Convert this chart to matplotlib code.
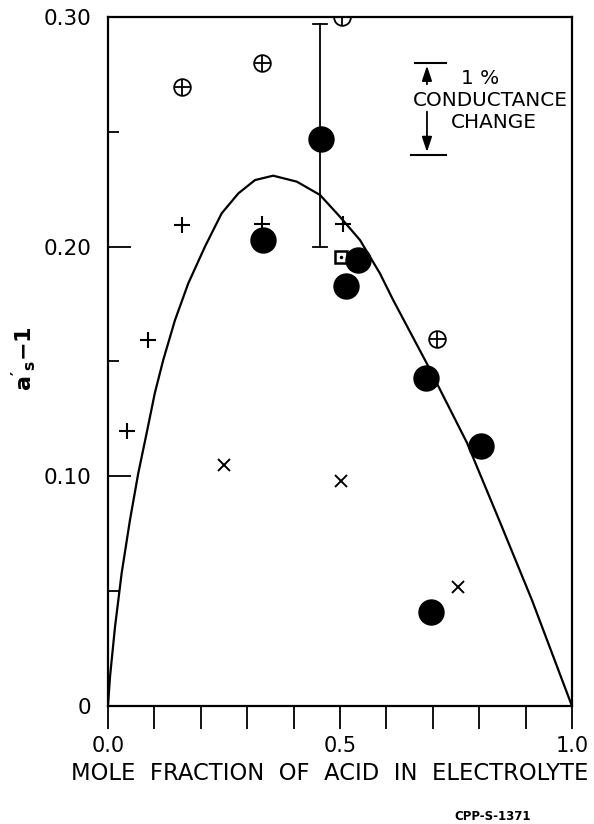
import numpy as np
import matplotlib
matplotlib.use("Agg")
import matplotlib.pyplot as plt

matplotlib.rcParams['font.family'] = 'DejaVu Sans'
matplotlib.rcParams['mathtext.fontset'] = 'dejavusans'
matplotlib.rcParams['mathtext.default'] = 'regular'

# theoretical curve, read point by point
curve_x = [0.0, 0.0043, 0.0151, 0.0295, 0.0474, 0.0653, 0.0834, 0.101, 0.119,
           0.1444, 0.173, 0.209, 0.245, 0.281, 0.317, 0.356, 0.407, 0.457,
           0.500, 0.543, 0.586, 0.614, 0.6875, 0.774, 0.845, 0.914, 1.0]
curve_y = [0.0, 0.0126, 0.0344, 0.0579, 0.081, 0.1014, 0.1189, 0.1363, 0.1506,
           0.168, 0.184, 0.200, 0.2145, 0.2232, 0.229, 0.2309, 0.2283, 0.2225,
           0.213, 0.2029, 0.1884, 0.177, 0.149, 0.1145, 0.080, 0.046, 0.0]

# measured points, by symbol
dot_x = [0.335, 0.459, 0.5395, 0.513, 0.685, 0.804, 0.696]
dot_y = [0.203, 0.247, 0.194, 0.183, 0.143, 0.113, 0.041]

oplus_x = [0.159, 0.332, 0.504, 0.709]
oplus_y = [0.2695, 0.280, 0.300, 0.160]

plus_x = [0.040, 0.087, 0.159, 0.333, 0.506]
plus_y = [0.1197, 0.1593, 0.2094, 0.210, 0.210]

cross_x = [0.250, 0.502, 0.754]
cross_y = [0.105, 0.098, 0.052]

sq_x = [0.502]
sq_y = [0.1953]

# error bar on the 0.46 point
err_x = 0.457
err_lo, err_hi = 0.200, 0.297

# 1% conductance change scale bar
bar_x = 0.6875
bar_lo, bar_hi = 0.240, 0.280

fig = plt.figure(figsize=(5.94, 8.24), dpi=100)
ax = fig.add_axes([0.1818, 0.1432, 0.7811, 0.8362])

ax.plot(curve_x, curve_y, color='k', lw=1.6, solid_joinstyle='round')

ax.plot([err_x, err_x], [err_lo, err_hi], color='k', lw=1.3)
for yy in (err_lo, err_hi):
    ax.plot([err_x - 0.016, err_x + 0.016], [yy, yy], color='k', lw=1.3)

ax.plot(dot_x, dot_y, 'o', color='k', ms=18, ls='none')
ax.plot(oplus_x, oplus_y, 'o', mfc='none', mec='k', mew=1.3, ms=12, ls='none')
ax.plot(oplus_x, oplus_y, '+', color='k', mew=1.3, ms=12, ls='none')
ax.plot(plus_x, plus_y, '+', color='k', mew=1.5, ms=11, ls='none')
ax.plot(cross_x, cross_y, 'x', color='k', mew=1.4, ms=8, ls='none')
ax.plot(sq_x, sq_y, 's', mfc='none', mec='k', mew=1.8, ms=8, ls='none')
ax.plot(sq_x, sq_y, '.', color='k', ms=3, ls='none')

# scale bar with arrows
ax.plot([bar_x - 0.025, bar_x + 0.04], [bar_hi, bar_hi], color='k', lw=1.5)
ax.plot([bar_x - 0.035, bar_x + 0.04], [bar_lo, bar_lo], color='k', lw=1.5)
ax.annotate('', xy=(bar_x, bar_hi), xytext=(bar_x, 0.2695),
            arrowprops=dict(arrowstyle='-|>,head_length=0.9,head_width=0.3', color='k', lw=1.3))
ax.annotate('', xy=(bar_x, bar_lo), xytext=(bar_x, 0.260),
            arrowprops=dict(arrowstyle='-|>,head_length=0.9,head_width=0.3', color='k', lw=1.3))
ax.text(0.802, 0.2734, '1 %', ha='center', va='center', fontsize=14.4)
ax.text(0.823, 0.2638, 'CONDUCTANCE', ha='center', va='center', fontsize=14.4)
ax.text(0.832, 0.2542, 'CHANGE', ha='center', va='center', fontsize=14.4)

ax.set_xlim(0, 1.0)
ax.set_ylim(0, 0.30)

ax.set_xticks(np.arange(0, 1.01, 0.1))
ax.set_xticklabels(['0.0', '', '', '', '', '0.5', '', '', '', '', '1.0'])
ax.set_yticks([0, 0.10, 0.20, 0.30])
ax.set_yticklabels(['0', '0.10', '0.20', '0.30'])
ax.set_yticks([0.05, 0.15, 0.25], minor=True)

ax.tick_params(axis='x', direction='out', length=16.5, width=1.3, pad=5, labelsize=15)
ax.tick_params(axis='y', which='major', direction='in', length=16.5, width=1.3, pad=12, labelsize=15.5)
ax.tick_params(axis='y', which='minor', direction='in', length=8, width=1.3)

for s in ax.spines.values():
    s.set_linewidth(1.6)

fig.text(0.5555, 1 - 774 / 824, 'MOLE  FRACTION  OF  ACID  IN  ELECTROLYTE',
         ha='center', va='center', fontsize=16.3)
fig.text(24 / 594, 1 - 359 / 824, r"$a'_{s}$$-$1", rotation=90,
         ha='center', va='center', fontsize=16, fontweight='bold')
fig.text(493 / 594, 1 - 817 / 824, 'CPP-S-1371', ha='center', va='center',
         fontsize=8.5, fontweight='bold')

plt.savefig('out.png', dpi=100)
